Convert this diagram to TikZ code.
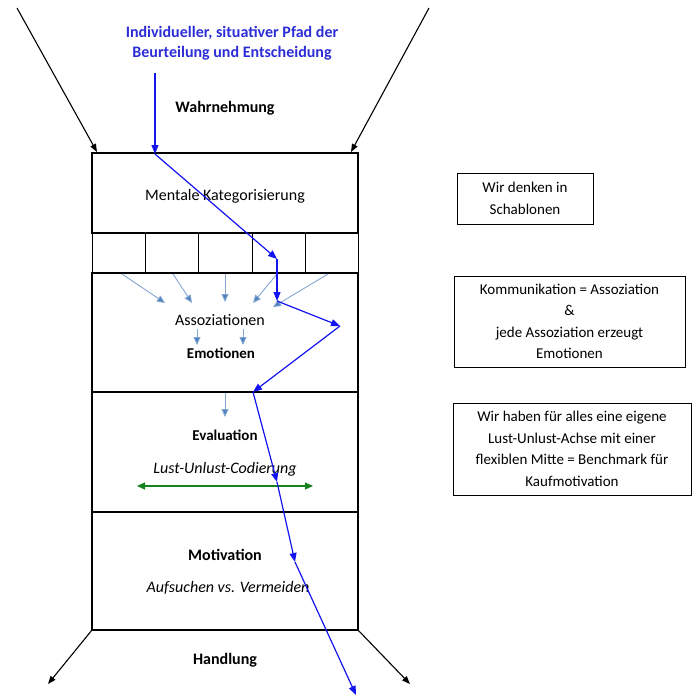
\documentclass[tikz,border=0pt]{standalone}
\usepackage{fontspec}
\setmainfont{Carlito}
\usepackage{xcolor}
\usetikzlibrary{positioning}
\usetikzlibrary{arrows.meta}
\usetikzlibrary{math}
\definecolor{pathblue}{RGB}{20,20,240}
\definecolor{titleblue}{RGB}{45,45,215}
\definecolor{assocblue}{RGB}{79,129,189}
\definecolor{axisgreen}{RGB}{20,130,30}
\tikzset{
  layer/.style={draw, line width=1.6pt},
  cell/.style={draw, line width=0.9pt},
  funnel/.style={draw, -{Triangle[length=8pt, width=6pt]}, line width=1.1pt},
  pathseg/.style={draw=pathblue, -{Triangle[length=9pt, width=7pt]}, line width=1.2pt},
  assoc/.style={draw=assocblue!70, -{Triangle[length=8pt, width=7pt, fill=assocblue]}, line width=0.9pt},
  layertext/.style={inner sep=0pt, font=\fontsize{16}{20}\selectfont},
  notebox/.style={draw, line width=0.8pt, align=center, inner sep=0pt,
    font=\fontsize{15}{21.5}\selectfont},
}

\begin{document}
\begin{tikzpicture}[
  x=1pt, y=-1pt,
]

  \useasboundingbox (0,0) rectangle (693,697);

  \tikzmath{
    \boxl = 92;  % left edge of the layer stack
    \boxr = 358; % right edge of the layer stack
  }

  % Corners of the layer stack
  \coordinate (topl) at (\boxl, 153);
  \coordinate (topr) at (\boxr, 153);
  \coordinate (botl) at (\boxl, 630);
  \coordinate (botr) at (\boxr, 630);

  % Funnel ends
  \coordinate (inl)  at ( 17,   8);
  \coordinate (inr)  at (429,   8);
  \coordinate (inlh) at ( 97, 152);
  \coordinate (inrh) at (351, 152);
  \coordinate (outl) at ( 48, 684);
  \coordinate (outr) at (410, 684);

  % Layers
  \draw[layer] (\boxl, 153) rectangle (\boxr, 233);
  \draw[layer] (\boxl, 273) rectangle (\boxr, 392);
  \draw[layer] (\boxl, 392) rectangle (\boxr, 512);
  \draw[layer] (\boxl, 512) rectangle (\boxr, 630);
  \draw[line width=2.2pt] (topl) -- (topr);

  % Template cells
  \draw[cell] (\boxl, 233) rectangle (\boxr, 273);
  \draw[cell] (145, 233) -- (145, 273);
  \draw[cell] (198, 233) -- (198, 273);
  \draw[cell] (252, 233) -- (252, 273);
  \draw[cell] (305, 233) -- (305, 273);

  % Funnel in and out
  \draw[funnel] (inl) -- (inlh);
  \draw[funnel] (inr) -- (inrh);
  \draw[funnel] (botl) -- (outl);
  \draw[funnel] (botr) -- (outr);

  % Title of the path
  \node[layertext, font=\fontsize{16}{20}\bfseries, text=titleblue, align=center]
    (title) at (232, 43) {Individueller, situativer Pfad der\\Beurteilung und Entscheidung};

  % Layer texts
  \node[layertext, font=\fontsize{16}{20}\bfseries] (wahr)  at (225, 108) {Wahrnehmung};
  \node[layertext] (kat)   at (225, 196) {Mentale Kategorisierung};
  \node[layertext] (assoz) at (220, 320) {Assoziationen};
  \node[layertext, font=\fontsize{15}{20}\bfseries] (emo)   at (221, 353) {Emotionen};
  \node[layertext, font=\fontsize{15}{20}\bfseries] (eval)  at (225, 435) {Evaluation};
  \node[layertext, font=\fontsize{16}{20}\itshape]  (lust)  at (225, 469) {Lust-Unlust-Codierung};
  \node[layertext, font=\fontsize{16}{20}\bfseries] (moti)  at (225, 555) {Motivation};
  \node[layertext, font=\fontsize{16}{20}\itshape]  (aufs)  at (228, 588) {Aufsuchen vs. Vermeiden};
  \node[layertext, font=\fontsize{16}{20}\bfseries] (hand)  at (225, 660) {Handlung};

  % Arrows from the templates
  \coordinate (c1) at (122, 274);  \coordinate (a1) at (165, 303);
  \coordinate (c2) at (173, 274);  \coordinate (a2) at (192, 303);
  \coordinate (c3) at (225, 274);  \coordinate (a3) at (225, 302);
  \coordinate (c4) at (277, 274);  \coordinate (a4) at (253, 303);
  \coordinate (c5) at (328, 274);  \coordinate (a5) at (273, 307);
  \draw[assoc] (c1) -- (a1);
  \draw[assoc] (c2) -- (a2);
  \draw[assoc] (c3) -- (a3);
  \draw[assoc] (c4) -- (a4);
  \draw[assoc] (c5) -- (a5);

  % Arrows to the emotions and to the evaluation
  \coordinate (e1) at (197, 329);  \coordinate (f1) at (197, 345);
  \coordinate (e2) at (243, 329);  \coordinate (f2) at (243, 345);
  \coordinate (e3) at (225, 393);  \coordinate (f3) at (225, 417);
  \draw[assoc] (e1) -- (f1);
  \draw[assoc] (e2) -- (f2);
  \draw[assoc] (e3) -- (f3);

  % Lust-Unlust axis
  \coordinate (axl) at (137, 486);
  \coordinate (axr) at (313, 486);
  \draw[draw=axisgreen, {Triangle[length=8pt, width=7pt]}-{Triangle[length=8pt, width=7pt]}, line width=1.1pt]
    (axl) -- (axr);

  % Individual path
  \coordinate (p0) at (155,  73);
  \coordinate (p1) at (155, 154);
  \coordinate (p2) at (277, 259);
  \coordinate (p3) at (277, 301);
  \coordinate (p4) at (340, 326);
  \coordinate (p5) at (253, 392);
  \coordinate (p6) at (277, 482);
  \coordinate (p7) at (295, 562);
  \coordinate (p8) at (356, 695);
  \draw[pathseg] (p0) -- (p1);
  \draw[pathseg] (p1) -- (p2);
  \draw[pathseg] (p2) -- (p3);
  \draw[pathseg] (p3) -- (p4);
  \draw[pathseg] (p4) -- (p5);
  \draw[pathseg] (p5) -- (p6);
  \draw[pathseg] (p6) -- (p7);
  \draw[pathseg] (p7) -- (p8);

  % Notes on the right
  \node[notebox, minimum width=136pt, minimum height=51pt] (note1) at (525, 198.5)
    {Wir denken in\\Schablonen};
  \node[notebox, minimum width=231pt, minimum height=91pt] (note2) at (569.5, 321.5)
    {Kommunikation = Assoziation\\\&\\jede Assoziation erzeugt\\Emotionen};
  \node[notebox, minimum width=238pt, minimum height=92pt] (note3) at (572, 449)
    {Wir haben für alles eine eigene\\Lust-Unlust-Achse mit einer\\flexiblen Mitte = Benchmark für\\Kaufmotivation};

\end{tikzpicture}
\end{document}
